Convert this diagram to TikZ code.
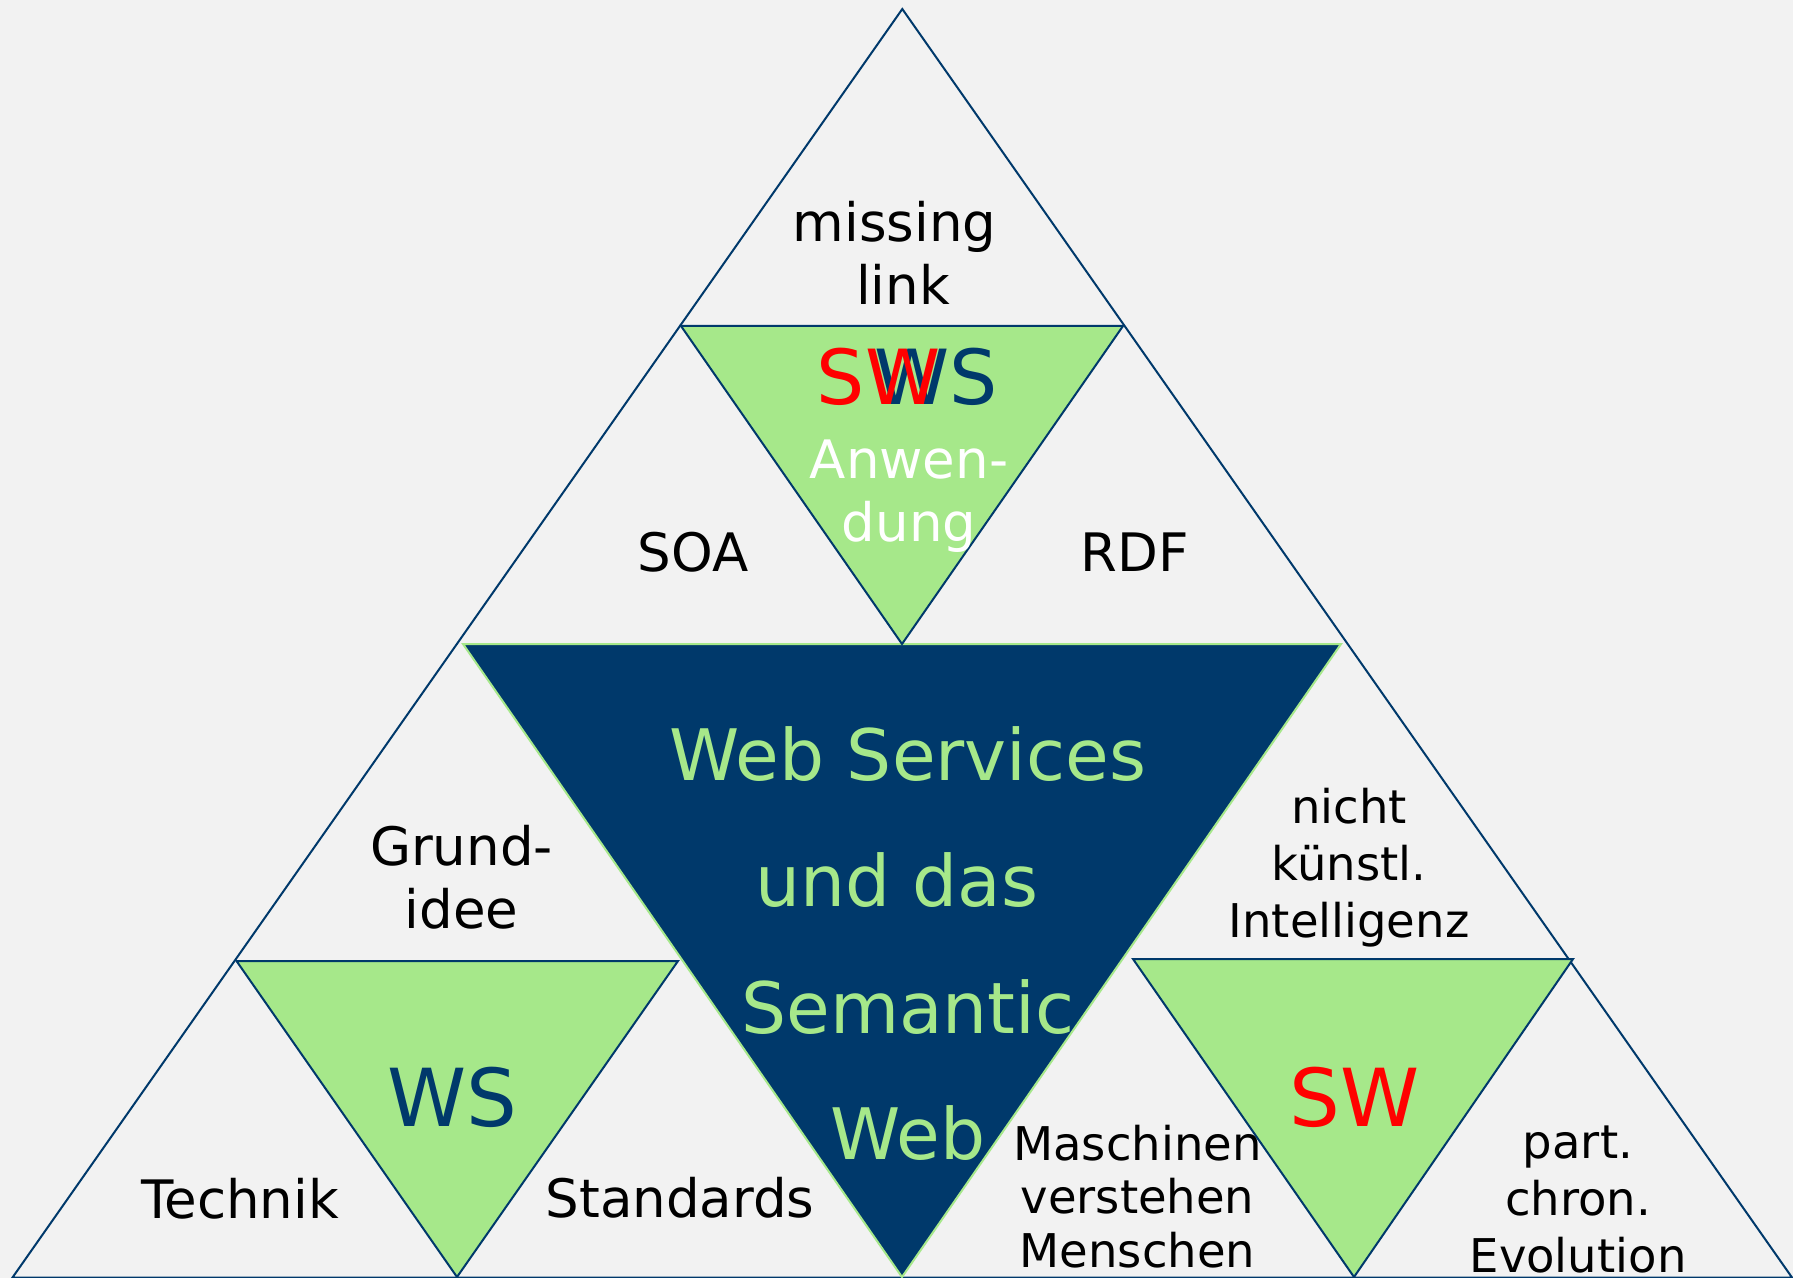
\documentclass[tikz,border=0pt]{standalone}
\usepackage{fontspec}
\setmainfont{DejaVu Sans}
\definecolor{wsblue}{RGB}{0,57,107}
\definecolor{wsgreen}{RGB}{166,232,138}
\definecolor{slidegray}{RGB}{242,242,242}

\begin{document}
\begin{tikzpicture}[x=0.5pt, y=-0.5pt]
    \tikzstyle{every node}=[align=center, inner sep=0pt, anchor=base]
    \tikzstyle{edge} = [draw=wsblue, line width=1pt]
    \tikzstyle{corner} = [fill=wsgreen, draw=wsblue, line width=1pt]
    \tikzstyle{core} = [fill=wsblue, draw=wsgreen, line width=1pt]
    \tikzstyle{tag} = [font=\fontsize{26.5}{31.5}\selectfont]
    \tikzstyle{smalltag} = [font=\fontsize{23.25}{28.5}\selectfont]
    \tikzstyle{bigtag} = [text=wsgreen, font=\fontsize{35.5}{63.25}\selectfont]
    \tikzstyle{acro} = [font=\fontsize{40}{48}\selectfont]
    \fill[slidegray] (0,0) rectangle (1793,1278);
    \useasboundingbox (0,0) rectangle (1793,1278);
    % outer triangle
    \coordinate (apex) at (902.3,9);
    \coordinate (baseL) at (12.5,1277.5);
    \coordinate (baseR) at (1792,1277.5);
    \draw[edge] (apex) -- (baseL) -- (baseR) -- cycle;
    % inner triangles
    \draw[core] (463,644) -- (1341,644) -- (902,1277) -- cycle;
    \draw[corner] (681,326) -- (1123,326) -- (902,644) -- cycle;
    \draw[corner] (236.5,961) -- (678,961) -- (457,1277) -- cycle;
    \draw[corner] (1133,959) -- (1573,959) -- (1354,1277) -- cycle;
    % texts (base = last line)
    \node[tag] (missing) at (903,305) {missing\kern.318em\\link};
    \node[acro, text=wsblue, font=\fontsize{38}{46}\selectfont] (sws b) at (936,405) {WS};
    \node[acro, text=red, font=\fontsize{38}{46}\selectfont] (sws a) at (878.5,405) {SW};
    \node[tag, text=white] (anwendung) at (909,541) {Anwen-\\dung};
    \node[tag] (soa) at (693,571) {SOA};
    \node[tag] (rdf) at (1134.5,571) {RDF};
    \node[bigtag] (wssw) at (908,1159.5) {Web Services\\und das\kern.318em\\Semantic\\Web};
    \node[tag] (grundidee) at (461.5,928) {Grund-\\idee};
    \node[smalltag] (nicht) at (1349,937) {nicht\\künstl.\\Intelligenz};
    \node[acro, text=wsblue] (ws) at (452,1126) {WS};
    \node[acro, text=red] (sw) at (1354.5,1126) {SW};
    \node[tag] (technik) at (240,1218) {Technik};
    \node[tag] (standards) at (680,1217) {Standards};
    \node[smalltag, font=\fontsize{23.25}{26.75}\selectfont] (maschinen) at (1137.5,1267) {Maschinen\\verstehen\\Menschen};
    \node[smalltag] (part) at (1578,1272) {part.\\chron.\\Evolution};
\end{tikzpicture}
\end{document}
